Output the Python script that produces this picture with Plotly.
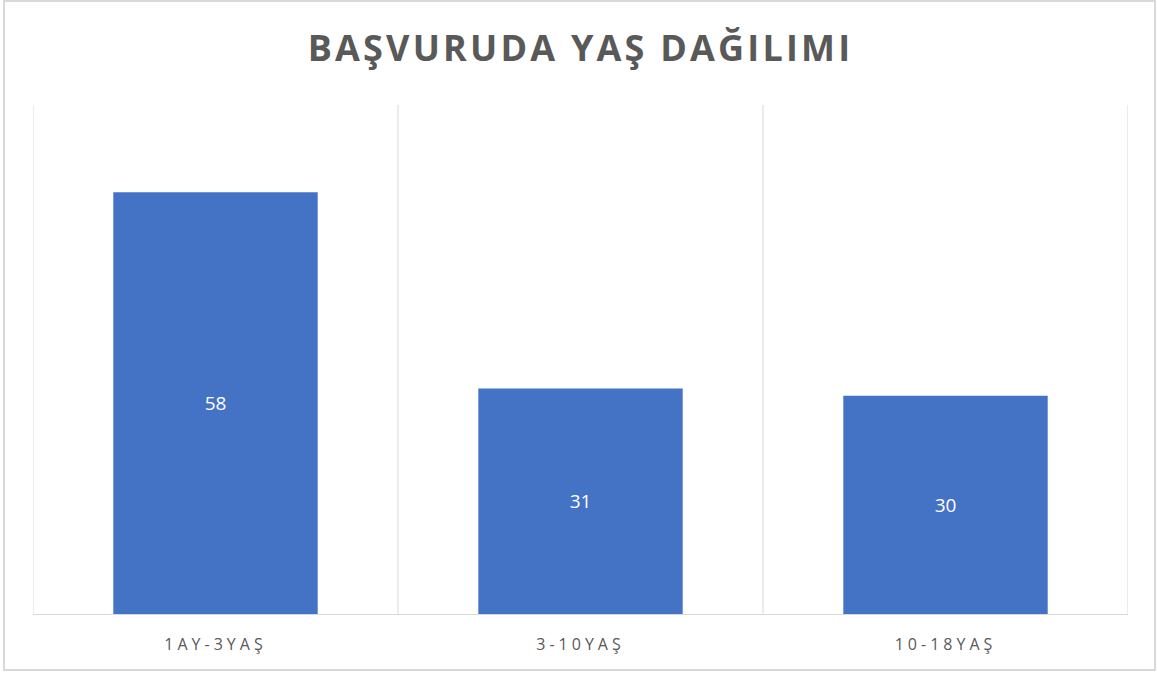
import plotly.graph_objects as go

categories = ["1AY-3YAŞ", "3-10YAŞ", "10-18YAŞ"]
values = [58, 31, 30]
title_text = "BAŞVURUDA YAŞ DAĞILIMI"

W, H = 1157, 673
L, R, T, B = 33, 29, 105, 59
pw, ph = W - L - R, H - T - B

fig = go.Figure(go.Bar(
    x=categories, y=values,
    marker=dict(color="#4472C4", line=dict(width=0)),
    text=values, textposition="inside", insidetextanchor="middle",
    textfont=dict(family="Open Sans", size=19, color="white"),
    width=0.56, hoverinfo="skip",
))

shapes = []
for xv in [-0.5, 0.5, 1.5, 2.5]:
    shapes.append(dict(type="line", xref="x", yref="paper", x0=xv, x1=xv, y0=0, y1=1,
                       line=dict(color="#d9d9d9", width=1), layer="below"))
# outer chart border
shapes.append(dict(type="rect", xref="paper", yref="paper",
                   x0=(4 - L) / pw, x1=(1155 - L) / pw,
                   y0=(T + ph - 670) / ph, y1=(T + ph - 1) / ph,
                   line=dict(color="#d9d9d9", width=2), layer="below"))

fig.update_layout(
    width=W, height=H,
    margin=dict(l=L, r=R, t=T, b=B),
    paper_bgcolor="white", plot_bgcolor="white",
    title=dict(text="<b>" + title_text + "</b>", x=0.5, xref="paper", xanchor="center",
               y=1 - 48 / H, yref="container", yanchor="middle",
               font=dict(family="Open Sans", size=36, color="#595959")),
    xaxis=dict(range=[-0.5, 2.5], showgrid=False, showline=True, linecolor="#d9d9d9", linewidth=1,
               ticks="", tickfont=dict(family="Open Sans", size=16, color="#595959"),
               ticklabelstandoff=16, fixedrange=True),
    yaxis=dict(range=[0, 70], showgrid=False, showticklabels=False, zeroline=False,
               showline=False, fixedrange=True),
    shapes=shapes,
    showlegend=False,
)

post = """
document.body.style.margin='0';
document.body.style.padding='0';
document.querySelectorAll('.xtick text').forEach(function(t){t.style.letterSpacing='4px';});
document.querySelectorAll('.gtitle').forEach(function(t){t.style.letterSpacing='3.2px';});
"""
fig.write_html("out.html", post_script=post, config={"displayModeBar": False})
